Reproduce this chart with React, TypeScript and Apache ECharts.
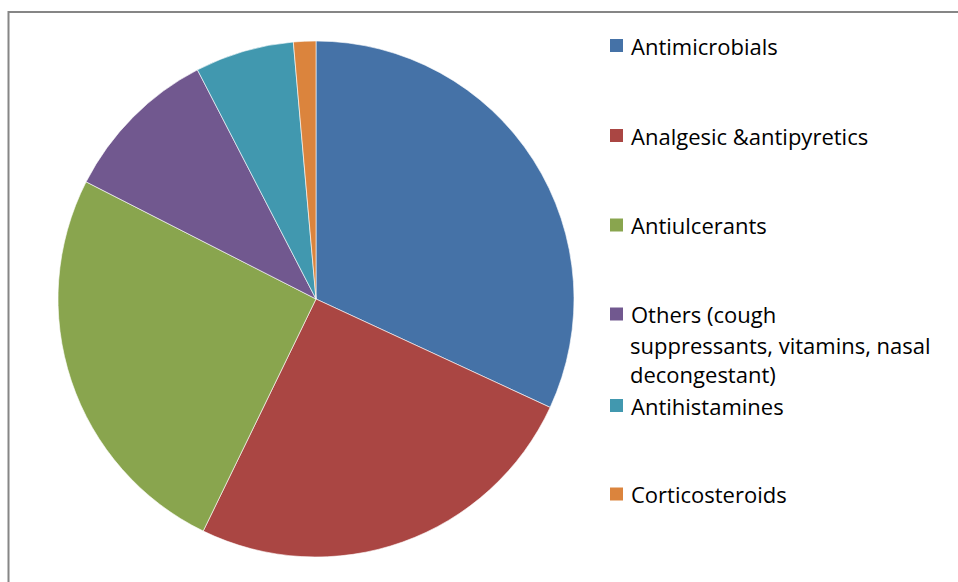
import React, { useEffect, useRef } from "react";
import * as echarts from "echarts";

const categories = [
  "Antimicrobials",
  "Analgesic &antipyretics",
  "Antiulcerants",
  "Others (cough suppressants, vitamins, nasal decongestant)",
  "Antihistamines",
  "Corticosteroids",
];
const values = [31.9, 25.3, 25.3, 9.9, 6.2, 1.4];
const legendLabels = [
  "Antimicrobials",
  "Analgesic &antipyretics",
  "Antiulcerants",
  "Others (cough",
  "Antihistamines",
  "Corticosteroids",
];
const othersExtraLines = ["suppressants, vitamins, nasal", "decongestant)"];
const palette = ["#4572A7", "#AA4643", "#89A54E", "#71588F", "#4198AF", "#DB843D"];

const FONT = "'Open Sans', 'Liberation Sans', sans-serif";
const FS = 22;

export default function App() {
  const ref = useRef<HTMLDivElement>(null);
  useEffect(() => {
    if (!ref.current) return;
    const chart = echarts.init(ref.current, undefined, { renderer: "svg" });
    const legendCenters = [45.5, 135.5, 225, 314, 405.5, 494];
    const extraCenters = [344.5, 374];
    const legends = categories.map((name, i) => ({
      show: true,
      orient: "vertical" as const,
      left: 608,
      top: legendCenters[i] - 11,
      padding: 0,
      itemWidth: 15,
      itemHeight: 15,
      icon: "rect",
      selectedMode: false,
      data: [name],
      formatter: () => legendLabels[i],
      textStyle: {
        fontFamily: FONT,
        fontSize: FS,
        lineHeight: 22,
        color: "#000",
        padding: [0, 0, 0, 2],
      },
    }));
    chart.setOption({
      animation: false,
      color: palette,
      legend: legends,
      graphic: [
        {
          type: "rect",
          shape: { x: 8.5, y: 12, width: 2000, height: 2000 },
          style: { fill: "none", stroke: "#868686", lineWidth: 2 },
          silent: true,
        },
        ...othersExtraLines.map((t, k) => ({
          type: "text",
          x: 630,
          y: extraCenters[k],
          style: {
            text: t,
            fontFamily: FONT,
            fontSize: FS,
            fill: "#000",
            lineHeight: 22,
            verticalAlign: "middle",
          },
        })),
      ],
      series: [
        {
          type: "pie",
          center: [316, 299],
          radius: 258,
          startAngle: 90,
          clockwise: true,
          label: { show: false },
          labelLine: { show: false },
          itemStyle: { borderColor: "#ffffff", borderWidth: 0.6 },
          emphasis: { disabled: true },
          data: categories.map((name, i) => ({ name, value: values[i] })),
        },
      ],
    });
    return () => chart.dispose();
  }, []);
  return (
    <div
      ref={ref}
      style={{ position: "fixed", left: 0, top: 0, width: 958, height: 582, background: "#fff" }}
    />
  );
}
